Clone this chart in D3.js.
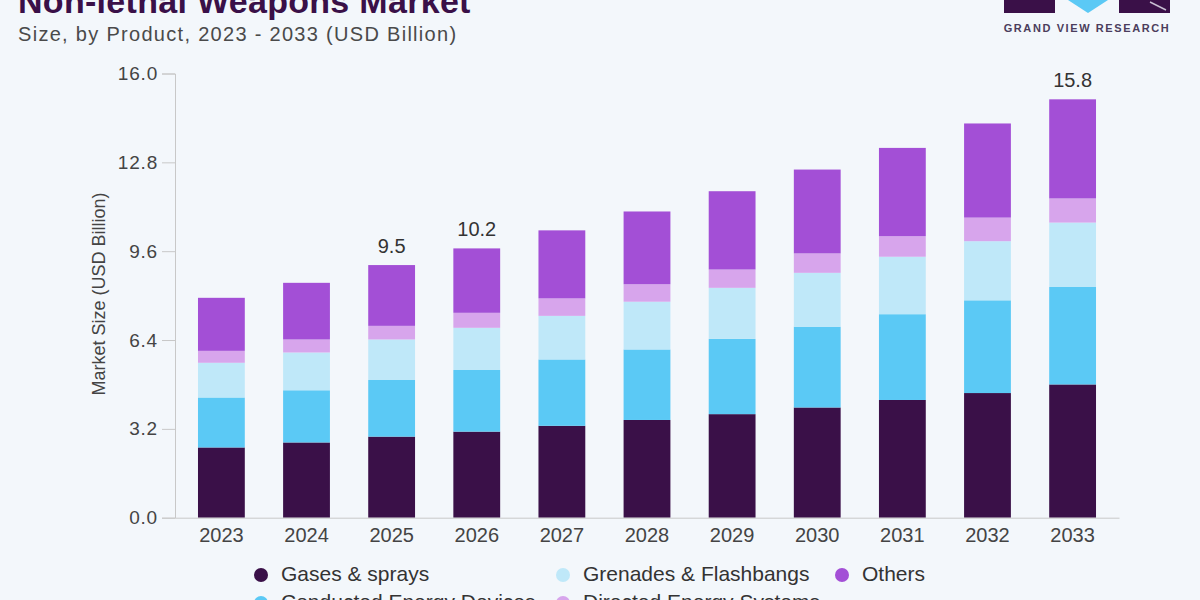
<!DOCTYPE html>
<html><head><meta charset="utf-8">
<script src="https://cdn.jsdelivr.net/npm/d3@7/dist/d3.min.js"></script>
<style>
html,body{margin:0;padding:0;background:#f3f7fb;}
svg{display:block;font-family:"Liberation Sans",Arial,sans-serif;}
</style></head>
<body><svg id="c" width="1200" height="600"></svg>
<script>
const years = ["2023","2024","2025","2026","2027","2028","2029","2030","2031","2032","2033"];
const seriesNames = ["Gases & sprays","Conducted Energy Devices","Grenades & Flashbangs","Directed Energy Systems","Others"];
const gases    = [2.53,2.71,2.92,3.10,3.31,3.52,3.73,3.97,4.24,4.49,4.80];
const ced      = [1.80,1.88,2.04,2.22,2.39,2.54,2.71,2.91,3.09,3.34,3.51];
const grenades = [1.25,1.36,1.46,1.52,1.57,1.72,1.84,1.94,2.07,2.13,2.32];
const directed = [0.43,0.47,0.49,0.54,0.63,0.63,0.66,0.70,0.74,0.85,0.87];
const others   = [1.91,2.04,2.19,2.32,2.45,2.62,2.82,3.02,3.18,3.39,3.57];
const colors   = ["#3a1048","#5bc9f5","#bfe8f9","#d7a5ec","#a34fd6"];
const yTicks   = [0,3.2,6.4,9.6,12.8,16.0];
const annotYears = ["2025","2026","2033"];
const annotTexts = ["9.5","10.2","15.8"];

const svg = d3.select("#c");
const seriesVals = [gases,ced,grenades,directed,others];
const table = years.map((y,i)=>{const o={year:y}; seriesNames.forEach((s,k)=>o[s]=seriesVals[k][i]); return o;});
const stack = d3.stack().keys(seriesNames)(table);

const x = d3.scaleBand().domain(years).range([175,1119]).paddingInner(0.45).paddingOuter(0.27);
const y = d3.scaleLinear().domain([0,16]).range([517.7,73.5]);

// title
svg.append("text").attr("x",18).attr("y",13).attr("fill","#3a1048")
  .style("font-size","34px").style("font-weight","bold").style("letter-spacing","0.3px").text("Non-lethal Weapons Market");
svg.append("text").attr("x",18).attr("y",41).attr("fill","#4a4a4a")
  .style("font-size","20px").style("letter-spacing","1.3px").text("Size, by Product, 2023 - 2033 (USD Billion)");

// logo
const lg = svg.append("g");
lg.append("rect").attr("x",1004).attr("y",0).attr("width",51).attr("height",13).attr("fill","#3a1048");
lg.append("path").attr("d","M1068,0 L1108,0 L1088,13 Z").attr("fill","#5bc9f5");
lg.append("rect").attr("x",1119).attr("y",0).attr("width",51).attr("height",13).attr("fill","#3a1048");
lg.append("path").attr("d","M1150,2 L1166,10").attr("stroke","#c9bfd3").attr("stroke-width",1.5);
lg.append("text").attr("x",1087).attr("y",32).attr("text-anchor","middle").attr("fill","#4b3d5c")
  .style("font-size","11px").style("font-weight","bold").style("letter-spacing","1.6px").text("GRAND VIEW RESEARCH");

// y axis
const yAxis = d3.axisLeft(y).tickValues(yTicks).tickFormat(d3.format(".1f")).tickSize(13).tickPadding(4);
const gy = svg.append("g").attr("transform","translate(175,0)").call(yAxis);
gy.select(".domain").attr("stroke","#c8c8c8");
gy.selectAll(".tick line").attr("stroke","#c8c8c8");
gy.selectAll(".tick text").attr("fill","#444").style("font-size","19px").style("letter-spacing","0.8px")
  .style("font-family","Liberation Sans, Arial, sans-serif");

svg.append("text").attr("transform","translate(105,294) rotate(-90)").attr("text-anchor","middle")
  .attr("fill","#444").style("font-size","18px").text("Market Size (USD Billion)");

// bars
svg.append("g").selectAll("g").data(stack).join("g").attr("fill",(d,i)=>colors[i])
  .selectAll("rect").data(d=>d).join("rect")
  .attr("x",d=>x(d.data.year)).attr("width",x.bandwidth())
  .attr("y",d=>y(d[1])).attr("height",d=>y(d[0])-y(d[1]));

// x axis
const xAxis = d3.axisBottom(x).tickSize(0).tickPadding(10);
const gx = svg.append("g").attr("transform","translate(0,517.7)").call(xAxis);
gx.select(".domain").attr("stroke","#c8c8c8");
gx.selectAll(".tick text").attr("fill","#444").style("font-size","20px").style("font-family","Liberation Sans, Arial, sans-serif");

// annotations
const totals = years.map((yr,i)=>seriesVals.reduce((s,a)=>s+a[i],0));
annotYears.forEach((yr,k)=>{
  const i = years.indexOf(yr);
  svg.append("text").attr("x",x(yr)+x.bandwidth()/2).attr("y",y(totals[i])-12)
    .attr("text-anchor","middle").attr("fill","#333").style("font-size","20px").text(annotTexts[k]);
});

// legend
const legPos = [[261,575],[261,603],[563,575],[563,603],[842,575]];
const leg = svg.append("g");
seriesNames.forEach((s,i)=>{
  const p = legPos[i];
  leg.append("circle").attr("cx",p[0]).attr("cy",p[1]).attr("r",7).attr("fill",colors[i]);
  leg.append("text").attr("x",p[0]+20).attr("y",p[1]+6).attr("fill","#333").style("font-size","21px").text(s);
});
</script></body></html>
